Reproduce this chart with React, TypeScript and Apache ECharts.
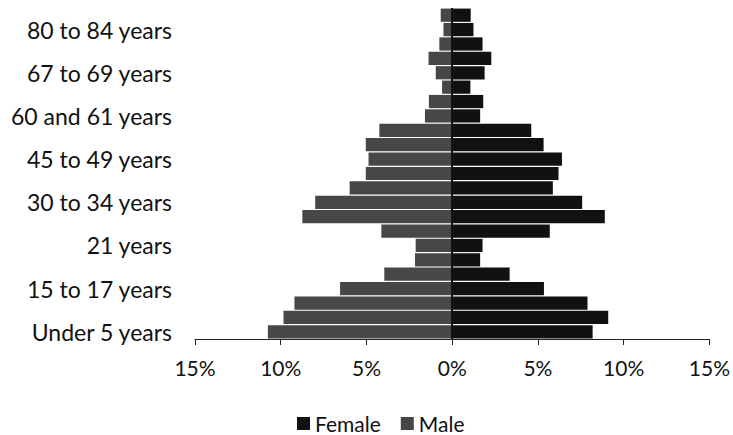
import React, { useEffect, useRef } from "react";
import * as echarts from "echarts";

const categories = [
  "Under 5 years", "5 to 9 years", "10 to 14 years", "15 to 17 years", "18 and 19 years",
  "20 years", "21 years", "22 to 24 years", "25 to 29 years", "30 to 34 years",
  "35 to 39 years", "40 to 44 years", "45 to 49 years", "50 to 54 years", "55 to 59 years",
  "60 and 61 years", "62 to 64 years", "65 and 66 years", "67 to 69 years", "70 to 74 years",
  "75 to 79 years", "80 to 84 years", "85 years and over",
];

const maleShare = [
  10.75, 9.84, 9.2, 6.54, 3.96, 2.17, 2.13, 4.13, 8.74, 7.99, 5.98, 5.04,
  4.88, 5.04, 4.25, 1.59, 1.36, 0.59, 0.96, 1.38, 0.75, 0.51, 0.67,
];

const femaleShare = [
  8.19, 9.1, 7.89, 5.35, 3.35, 1.63, 1.77, 5.69, 8.9, 7.58, 5.87, 6.2,
  6.4, 5.33, 4.61, 1.63, 1.81, 1.06, 1.89, 2.28, 1.77, 1.24, 1.08,
];

const FONT = "Lato";

export default function App() {
  const ref = useRef<HTMLDivElement>(null);
  useEffect(() => {
    if (!ref.current) return;
    const chart = echarts.init(ref.current, null, { renderer: "svg" });
    chart.setOption({
      animation: false,
      textStyle: { fontFamily: FONT },
      grid: { left: 195, right: 23, top: 8, bottom: 96, containLabel: false },
      legend: {
        data: ["Female", "Male"],
        left: 292,
        top: 408,
        itemWidth: 13,
        itemHeight: 13,
        itemGap: 20,
        icon: "rect",
        textStyle: { fontSize: 21, color: "#111", fontFamily: FONT },
      },
      xAxis: {
        type: "value",
        min: -15,
        max: 15,
        interval: 5,
        axisLine: { show: true, lineStyle: { color: "#222", width: 1 } },
        axisTick: { show: true, length: 6, lineStyle: { color: "#222" } },
        splitLine: { show: false },
        axisLabel: {
          fontSize: 21,
          color: "#111",
          margin: 18,
          fontFamily: FONT,
          formatter: (v: number) => Math.abs(v) + "%",
        },
      },
      yAxis: {
        type: "category",
        data: categories,
        axisLine: { show: false },
        axisTick: { show: false },
        axisLabel: { interval: 2, fontSize: 23, color: "#111", margin: 23, fontFamily: FONT },
      },
      series: [
        {
          name: "Male",
          type: "bar",
          stack: "pop",
          barCategoryGap: "8%",
          itemStyle: { color: "#474747" },
          data: maleShare.map((v) => -v),
          markLine: {
            silent: true,
            symbol: "none",
            label: { show: false },
            lineStyle: { color: "#111", width: 2, type: "solid" },
            data: [{ xAxis: 0 }],
          },
        },
        {
          name: "Female",
          type: "bar",
          stack: "pop",
          barCategoryGap: "8%",
          itemStyle: { color: "#111" },
          data: femaleShare,
        },
      ],
    });
    return () => chart.dispose();
  }, []);
  return (
    <div
      ref={ref}
      style={{ position: "fixed", left: 0, top: 0, width: 733, height: 435, background: "#fff" }}
    />
  );
}
